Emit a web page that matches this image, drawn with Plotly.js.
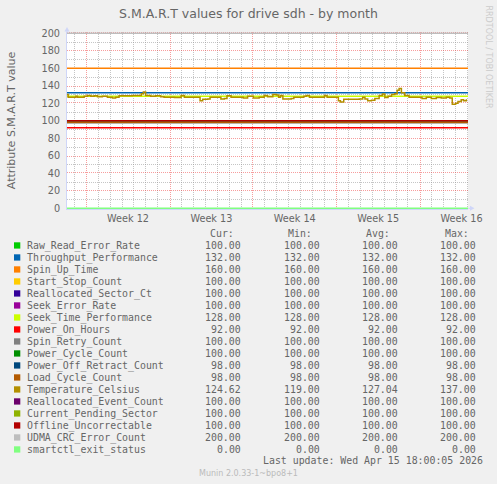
<!DOCTYPE html>
<html>
<head>
<meta charset="utf-8">
<script src="https://cdn.plot.ly/plotly-3.0.1.min.js"></script>
<style>
  html, body { margin: 0; padding: 0; background: #F0F0F0; }
  #chart { width: 497px; height: 484px; }
</style>
</head>
<body>
<div id="chart"></div>
<script>
// ---------------- data ----------------
const seriesNames = [
  "Raw_Read_Error_Rate", "Throughput_Performance", "Spin_Up_Time", "Start_Stop_Count",
  "Reallocated_Sector_Ct", "Seek_Error_Rate", "Seek_Time_Performance", "Power_On_Hours",
  "Spin_Retry_Count", "Power_Cycle_Count", "Power_Off_Retract_Count", "Load_Cycle_Count",
  "Temperature_Celsius", "Reallocated_Event_Count", "Current_Pending_Sector",
  "Offline_Uncorrectable", "UDMA_CRC_Error_Count", "smartctl_exit_status"
];
const seriesColors = [
  "#00CC00", "#0066B3", "#FF8000", "#FFCC00", "#330099", "#990099", "#CCFF00", "#FF0000",
  "#808080", "#008F00", "#00487D", "#B35A00", "#B38F00", "#6B006B", "#8FB300", "#B30000",
  "#BEBEBE", "#80FF80"
];
const curVals = [100, 132, 160, 100, 100, 100, 128, 92, 100, 100, 98, 98, 124.62, 100, 100, 100, 200, 0];
const minVals = [100, 132, 160, 100, 100, 100, 128, 92, 100, 100, 98, 98, 119.00, 100, 100, 100, 200, 0];
const avgVals = [100, 132, 160, 100, 100, 100, 128, 92, 100, 100, 98, 98, 127.04, 100, 100, 100, 200, 0];
const maxVals = [100, 132, 160, 100, 100, 100, 128, 92, 100, 100, 98, 98, 137.00, 100, 100, 100, 200, 0];

// Temperature_Celsius attribute (days since graph start, value)
const tempDays = [0, 0.10, 0.74, 0.88, 1.44, 1.72, 2.0, 2.28, 2.56, 2.97,
  3.39, 3.81, 4.08, 4.37, 4.93, 5.49, 6.04, 6.24, 6.41, 6.6,
  7.02, 7.44, 7.86, 8.15,
  8.6, 9.02, 9.58, 9.85, 10.56, 10.97, 11.17, 11.39, 11.81, 12.01,
  12.65, 12.92, 13.21, 13.43, 13.77, 14.6, 14.79, 15.16, 15.64, 16.13,
  16.55, 16.83,
  17.01, 17.28, 17.57, 17.76, 17.92, 18.12, 18.82, 19.04, 19.66, 19.88,
  20.08, 20.35, 21.05, 21.61, 21.83, 22.58, 22.78, 22.95, 23.23, 24.12,
  24.54, 24.82, 25.01, 25.24,
  25.56, 25.84, 26.2, 26.48, 26.68, 26.95, 27.24, 27.51, 27.71, 27.88,
  28.07, 28.35, 28.71, 29.61, 29.8, 30.16, 30.58, 31.0, 31.42, 31.84,
  32.12, 32.34, 32.62, 32.82, 33.09, 33.29, 33.52];
const tempValues = [130, 127, 128, 127, 128, 129, 128, 128.5, 127.5, 128,
  127, 126, 127, 128.5, 128.5, 129, 129, 131, 133, 129,
  128, 128.5, 127.5, 127,
  127, 126.5, 129, 127, 127, 127, 123, 124.5, 125, 127,
  127, 125, 125.5, 128.5, 127, 127, 126, 128, 126, 127,
  129, 127.5,
  127.5, 130, 129.5, 127, 129, 125, 125.5, 127, 127, 128,
  129, 127, 127, 129, 127, 127, 123, 121.5, 124.5, 124.5,
  125, 127, 125, 123,
  123.5, 125.5, 129, 130.5, 126.5, 128, 130, 131, 135, 137,
  132, 129, 127, 127, 125.5, 127, 125.5, 126.5, 126, 127,
  126, 119, 120, 122, 124, 123, 124.62];

const graphTitle = "S.M.A.R.T values for drive sdh - by month";
const yTitle = "Attribute S.M.A.R.T value";
const colHeaders = ["Cur:", "Min:", "Avg:", "Max:"];
const lastUpdate = "Last update: Wed Apr 15 18:00:05 2026";
const footer = "Munin 2.0.33-1~bpo8+1";
const watermark = "RRDTOOL / TOBI OETIKER";
const weekTickFormat = "Week %V";
const tempIndex = 12;

// ---------------- geometry ----------------
const DAY = 86400000;
const startMs = Date.UTC(2026, 2, 14, 9, 7);
const endMs = startMs + 33.66 * DAY;
const firstMonday = Date.UTC(2026, 2, 16);
const W = 497, H = 484;
const M = { l: 67, r: 29, t: 32, b: 275 };
const plotW = W - M.l - M.r, plotH = H - M.t - M.b;
const Y_RANGE = [-0.8, 201.5];
const pxX = x => (x - M.l) / plotW;
const pxY = y => (H - M.b - y) / plotH;

const FONT = "#666666";
const mono = { family: "DejaVu Sans Mono", size: 9.9, color: FONT };
const MAJ = "rgba(240,60,60,0.5)", MIN = "rgba(150,150,150,0.55)";

// ---------------- traces ----------------
const traces = seriesNames.map((name, i) => {
  if (i === tempIndex) {
    return {
      type: "scatter", mode: "lines", name,
      x: tempDays.map(d => startMs + d * DAY),
      y: tempValues,
      line: { color: seriesColors[i], width: 1.5, shape: "hv" },
      hoverinfo: "skip"
    };
  }
  return {
    type: "scatter", mode: "lines", name,
    x: [startMs, endMs],
    y: [curVals[i], curVals[i]],
    line: { color: seriesColors[i], width: 1.4 },
    hoverinfo: "skip"
  };
});

const annotations = [];
const shapes = [];

// pixel snapping helpers for crisp 1px dotted grid lines
const snapCell = (p, even) => {
  let c = Math.floor(p);
  if (even && c % 2 !== 0) c = (p - c > 0.5) ? c + 1 : c - 1;
  return c + 0.5;
};

// ---------------- vertical time grid (daily minor, weekly major) ----------------
const timePx = t => M.l + (t - startMs) / (endMs - startMs) * plotW;
const gridDays = [];
for (let t = firstMonday - 7 * DAY; t <= endMs; t += DAY) if (t > startMs) gridDays.push(t);
const isMajor = t => (((Math.round((t - firstMonday) / DAY) % 7) + 7) % 7) === 0;
const vLine = (t, major) => {
  const xp = pxX(snapCell(timePx(t), major));
  shapes.push({ type: "line", layer: "below", xref: "paper", yref: "paper",
    x0: xp, x1: xp, y0: 0, y1: 1,
    line: { color: major ? MAJ : MIN, width: 1, dash: "1px,1px" } });
};
gridDays.filter(t => !isMajor(t)).forEach(t => vLine(t, false));
gridDays.filter(isMajor).forEach(t => vLine(t, true));

// ---------------- horizontal value grid (minor 10, major 20) ----------------
const valPx = v => M.t + (Y_RANGE[1] - v) / (Y_RANGE[1] - Y_RANGE[0]) * plotH;
const hLine = (v, major) => {
  const yp = pxY(snapCell(valPx(v), major));
  shapes.push({ type: "line", layer: "below", xref: "paper", yref: "paper",
    x0: 0, x1: 1, y0: yp, y1: yp,
    line: { color: major ? MAJ : MIN, width: 1, dash: "1px,1px" } });
};
for (let v = 10; v < 200; v += 20) hLine(v, false);
for (let v = 20; v <= 200; v += 20) hLine(v, true);

// ---------------- legend table ----------------
const rowY0 = 245.6, rowStep = 12;
const valRight = [242.3, 321, 399, 477.3];
const headRight = [235.2, 313.4, 391.2, 470];
colHeaders.forEach((h, c) => {
  annotations.push({ xref: "paper", yref: "paper", x: pxX(headRight[c]), y: pxY(233.7),
    text: h, showarrow: false, xanchor: "right", yanchor: "middle", font: mono, borderpad: 0 });
});
const cols = [curVals, minVals, avgVals, maxVals];
seriesNames.forEach((name, i) => {
  const y = rowY0 + i * rowStep;
  shapes.push({ type: "rect", xref: "paper", yref: "paper",
    x0: pxX(14), x1: pxX(20.3), y0: pxY(y + 3), y1: pxY(y - 3.3),
    fillcolor: seriesColors[i], line: { width: 0 } });
  annotations.push({ xref: "paper", yref: "paper", x: pxX(26.4), y: pxY(y),
    text: name, showarrow: false, xanchor: "left", yanchor: "middle", font: mono, borderpad: 0 });
  cols.forEach((arr, c) => {
    annotations.push({ xref: "paper", yref: "paper", x: pxX(valRight[c]), y: pxY(y),
      text: arr[i].toFixed(2), showarrow: false, xanchor: "right", yanchor: "middle", font: mono, borderpad: 0 });
  });
});
annotations.push({ xref: "paper", yref: "paper", x: pxX(483.5), y: pxY(461),
  text: lastUpdate, showarrow: false, xanchor: "right", yanchor: "middle", font: mono, borderpad: 0 });
annotations.push({ xref: "paper", yref: "paper", x: pxX(248.3), y: pxY(473.3),
  text: footer, showarrow: false, xanchor: "center", yanchor: "middle",
  font: { family: "DejaVu Sans", size: 8, color: "#BBBBBB" }, borderpad: 0 });
annotations.push({ xref: "paper", yref: "paper", x: pxX(488), y: pxY(56.5),
  text: watermark, showarrow: false, textangle: 90, xanchor: "center", yanchor: "middle",
  font: { family: "DejaVu Sans", size: 8, color: "#CCCCCC" }, borderpad: 0 });

// axis arrows
const AX = "#CFD6F8";
shapes.push({ type: "line", xref: "paper", yref: "paper", x0: pxX(67), x1: pxX(67), y0: pxY(33), y1: pxY(29),
  line: { color: AX, width: 1 } });
shapes.push({ type: "path", xref: "paper", yref: "paper",
  path: `M ${pxX(64.5)} ${pxY(31.5)} L ${pxX(67)} ${pxY(27)} L ${pxX(69.5)} ${pxY(31.5)} Z`,
  fillcolor: AX, line: { width: 0 } });
shapes.push({ type: "line", xref: "paper", yref: "paper", x0: pxX(468), x1: pxX(471), y0: pxY(208.3), y1: pxY(208.3),
  line: { color: AX, width: 1 } });
shapes.push({ type: "path", xref: "paper", yref: "paper",
  path: `M ${pxX(470)} ${pxY(205.8)} L ${pxX(474.5)} ${pxY(208.3)} L ${pxX(470)} ${pxY(210.8)} Z`,
  fillcolor: AX, line: { width: 0 } });

// ---------------- layout ----------------
const layout = {
  width: W, height: H,
  margin: M,
  paper_bgcolor: "#F0F0F0",
  plot_bgcolor: "#FFFFFF",
  showlegend: false,
  hovermode: false,
  title: { text: graphTitle, x: 0.5, xanchor: "center", y: 1 - 14 / H, yanchor: "middle",
    font: { family: "DejaVu Sans", size: 12.5, color: FONT } },
  xaxis: {
    type: "date",
    range: [startMs, endMs],
    tick0: "2026-03-16", dtick: 7 * DAY,
    tickformat: weekTickFormat,
    ticklabelmode: "period",
    ticks: "",
    showgrid: false,
    zeroline: false,
    showline: true, linecolor: AX, linewidth: 1,
    tickfont: { family: "DejaVu Sans", size: 9.7, color: FONT },
    fixedrange: true
  },
  yaxis: {
    range: Y_RANGE,
    tick0: 0, dtick: 20,
    ticks: "",
    ticklabelstandoff: 4,
    showgrid: false,
    zeroline: false,
    showline: true, linecolor: AX, linewidth: 1,
    tickfont: { family: "DejaVu Sans", size: 9.7, color: FONT },
    title: { text: yTitle, standoff: 23, font: { family: "DejaVu Sans", size: 11, color: FONT } },
    fixedrange: true
  },
  annotations,
  shapes
};

Plotly.newPlot("chart", traces, layout, { staticPlot: true, displayModeBar: false });
</script>
</body>
</html>
